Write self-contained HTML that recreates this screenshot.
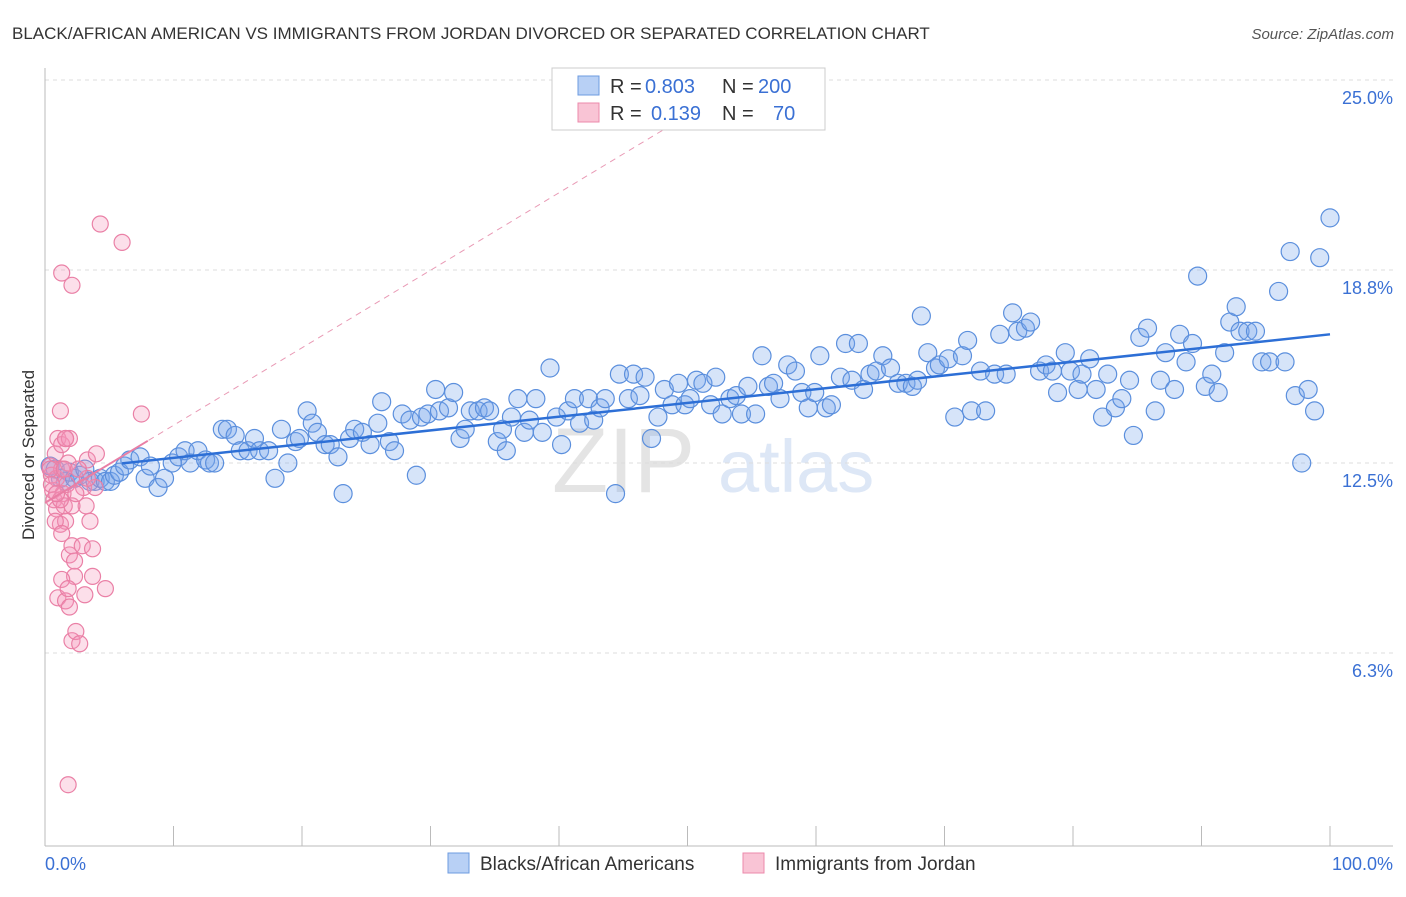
<!DOCTYPE html>
<html><head><meta charset="utf-8"><style>
body{margin:0;background:#fff;font-family:"Liberation Sans",sans-serif;}
svg text{font-family:"Liberation Sans",sans-serif;}
</style></head><body>
<svg id="chart" width="1406" height="892">
<text x="12" y="39" font-size="17" fill="#333">BLACK/AFRICAN AMERICAN VS IMMIGRANTS FROM JORDAN DIVORCED OR SEPARATED CORRELATION CHART</text>
<text x="1394" y="39" font-size="15" fill="#555" text-anchor="end" font-style="italic">Source: ZipAtlas.com</text>
<text x="34" y="455" font-size="17" fill="#333" text-anchor="middle" transform="rotate(-90 34 455)">Divorced or Separated</text>
<g><text x="552" y="492" font-size="92" fill="#e4e4e4" font-family="Liberation Serif">ZIP</text><text x="718" y="492" font-size="74" fill="#dde7f6">atlas</text></g>
<g id="grid"></g><g id="axes"></g><g id="marks"></g>
<g>
<rect x="552" y="68" width="273" height="62" fill="#fff" stroke="#ccc"/>
<rect x="578" y="76" width="21" height="19" fill="#b8d0f5" stroke="#6d9be0"/>
<rect x="578" y="103" width="21" height="19" fill="#f9c4d5" stroke="#ec8aab"/>
<text x="610" y="93" font-size="20" fill="#333">R =</text>
<text x="645" y="93" font-size="20" fill="#3a70d4">0.803</text>
<text x="722" y="93" font-size="20" fill="#333">N =</text>
<text x="758" y="93" font-size="20" fill="#3a70d4">200</text>
<text x="610" y="120" font-size="20" fill="#333">R =</text>
<text x="651" y="120" font-size="20" fill="#3a70d4">0.139</text>
<text x="722" y="120" font-size="20" fill="#333">N =</text>
<text x="773" y="120" font-size="20" fill="#3a70d4">70</text>
</g>
<g>
<rect x="448" y="853" width="21" height="20" fill="#b8d0f5" stroke="#6d9be0"/>
<text x="480" y="870" font-size="19" fill="#333">Blacks/African Americans</text>
<rect x="743" y="853" width="21" height="20" fill="#f9c4d5" stroke="#ec8aab"/>
<text x="775" y="870" font-size="19" fill="#333">Immigrants from Jordan</text>
</g>
</svg>
<script>
const yTicks=[25.0,18.8,12.5,6.3];
const yTickLabels=["25.0%","18.8%","12.5%","6.3%"];
const xTickLabels=["0.0%","100.0%"];
const blueX=[0.4,0.8,1.2,1.6,1.9,2.3,2.7,3.1,3.5,3.9,4.3,4.7,5.1,5.4,5.8,6.2,6.6,7.4,7.8,8.2,8.8,9.3,9.9,10.4,10.9,11.3,11.9,12.5,12.8,13.2,13.8,14.2,14.8,15.2,15.8,16.3,16.7,17.4,17.9,18.4,18.9,19.5,19.8,20.4,20.8,21.2,21.8,22.2,22.8,23.2,23.7,24.1,24.7,25.3,25.9,26.2,26.8,27.2,27.8,28.4,28.9,29.3,29.8,30.4,30.7,31.4,31.8,32.3,32.7,33.1,33.7,34.2,34.6,35.2,35.6,35.9,36.3,36.8,37.3,37.7,38.2,38.7,39.3,39.8,40.2,40.7,41.2,41.6,42.3,42.7,43.2,43.6,44.4,44.7,45.4,45.8,46.3,46.7,47.2,47.7,48.2,48.8,49.3,49.8,50.2,50.7,51.2,51.8,52.2,52.7,53.3,53.8,54.2,54.7,55.3,55.8,56.3,56.7,57.2,57.8,58.4,58.9,59.4,59.9,60.3,60.8,61.2,61.9,62.3,62.8,63.3,63.7,64.2,64.7,65.2,65.8,66.4,67.0,67.5,67.9,68.2,68.7,69.3,69.6,70.3,70.8,71.4,71.8,72.1,72.8,73.2,73.9,74.3,74.8,75.3,75.7,76.3,76.7,77.4,77.9,78.4,78.8,79.4,79.8,80.4,80.7,81.3,81.8,82.3,82.7,83.3,83.8,84.4,84.7,85.2,85.8,86.4,86.8,87.2,87.9,88.3,88.8,89.3,89.7,90.3,90.8,91.3,91.8,92.2,92.7,93.0,93.6,94.2,94.7,95.3,96.0,96.5,96.9,97.3,97.8,98.3,98.8,99.2,100];
const blueY=[12.4,12.3,12.0,11.9,12.2,12.0,12.1,12.3,11.9,11.9,12.0,11.9,11.9,12.1,12.2,12.4,12.6,12.7,12.0,12.4,11.7,12.0,12.5,12.7,12.9,12.5,12.9,12.6,12.5,12.5,13.6,13.6,13.4,12.9,12.9,13.3,12.9,12.9,12.0,13.6,12.5,13.2,13.3,14.2,13.8,13.5,13.1,13.1,12.7,11.5,13.3,13.6,13.5,13.1,13.8,14.5,13.2,12.9,14.1,13.9,12.1,14.0,14.1,14.9,14.2,14.3,14.8,13.3,13.6,14.2,14.2,14.3,14.2,13.2,13.6,12.9,14.0,14.6,13.5,13.9,14.6,13.5,15.6,14.0,13.1,14.2,14.6,13.8,14.6,13.9,14.3,14.6,11.5,15.4,14.6,15.4,14.7,15.3,13.3,14.0,14.9,14.4,15.1,14.4,14.6,15.2,15.1,14.4,15.3,14.1,14.6,14.7,14.1,15.0,14.1,16.0,15.0,15.1,14.6,15.7,15.5,14.8,14.3,14.8,16.0,14.3,14.4,15.3,16.4,15.2,16.4,14.9,15.4,15.5,16.0,15.6,15.1,15.1,15.0,15.2,17.3,16.1,15.6,15.7,15.9,14.0,16.0,16.5,14.2,15.5,14.2,15.4,16.7,15.4,17.4,16.8,16.9,17.1,15.5,15.7,15.5,14.8,16.1,15.5,14.9,15.4,15.9,14.9,14.0,15.4,14.3,14.6,15.2,13.4,16.6,16.9,14.2,15.2,16.1,14.9,16.7,15.8,16.4,18.6,15.0,15.4,14.8,16.1,17.1,17.6,16.8,16.8,16.8,15.8,15.8,18.1,15.8,19.4,14.7,12.5,14.9,14.2,19.2,20.5];
const pinkX=[0.4,0.5,0.6,0.7,0.8,0.9,0.9,1.0,1.2,1.2,1.3,1.3,1.4,1.5,1.6,1.6,1.7,1.8,1.9,1.9,2.1,2.3,2.3,1.0,1.3,1.6,1.8,1.9,2.1,2.4,2.7,2.9,3.0,3.2,3.3,3.5,3.7,3.7,3.9,4.0,4.3,4.7,6.0,7.5,1.3,2.1,1.8,2.1,0.8,1.2,1.6,0.4,0.5,0.9,1.5,3.1,3.3,2.4,2.6,1.3];
const pinkY=[12.4,12.1,11.6,11.3,12.8,12.0,11.0,13.3,10.5,14.2,13.1,12.3,11.5,11.1,13.3,10.6,11.8,12.5,13.3,9.5,9.8,8.8,9.3,8.1,8.7,8.0,8.4,7.8,6.7,7.0,6.6,9.8,11.7,11.1,12.6,10.6,8.8,9.7,11.7,12.8,20.3,8.4,19.7,14.1,18.7,18.3,2.0,11.1,10.6,11.3,13.3,12.3,11.8,11.5,12.3,8.2,12.0,11.5,12.3,10.2];
const blueTrend=[12.22,0.0448];
const pinkTrend=[11.2,0.253];
const NS="http://www.w3.org/2000/svg";
const X0=45,X1=1330,Y0=846,YPER=30.64;
const sx=v=>X0+(v/100)*(X1-X0);
const sy=v=>Y0-v*YPER;
function mk(tag,attrs,parent){const e=document.createElementNS(NS,tag);for(const k in attrs)e.setAttribute(k,attrs[k]);parent.appendChild(e);return e;}
const grid=document.getElementById('grid'),axes=document.getElementById('axes'),marks=document.getElementById('marks');
yTicks.forEach((t,i)=>{
 const l=mk('line',{x1:45,x2:1393,y1:sy(t),y2:sy(t),stroke:'#ddd','stroke-dasharray':'4,4'},grid);
 
 
 const tx=mk('text',{x:1393,y:sy(t)+24,'font-size':18,fill:'#3a70d4','text-anchor':'end'},axes);
 tx.textContent=yTickLabels[i];
 
 
});
const al=mk('line',{x1:45,x2:45,y1:68,y2:846,stroke:'#bbb'},axes);


const bl=mk('line',{x1:45,x2:1393,y1:846,y2:846,stroke:'#bbb'},axes);


for(let i=0;i<=10;i++){const tk=mk('line',{x1:sx(i*10),x2:sx(i*10),y1:826,y2:846,stroke:'#bbb'},axes);
 
 }
[[0,'start',45],[1,'end',1393]].forEach(([i,a,x])=>{const t=mk('text',{x:x,y:870,'font-size':18,fill:'#3a70d4','text-anchor':a},axes);t.textContent=xTickLabels[i];
 
 });
blueX.forEach((v,i)=>{const c=mk('circle',{cx:sx(v),cy:sy(blueY[i]),r:9,fill:'rgba(120,165,235,0.3)',stroke:'#5b8fdd','stroke-width':1.2},marks);
 
 });
pinkX.forEach((v,i)=>{const c=mk('circle',{cx:sx(v),cy:sy(pinkY[i]),r:8,fill:'rgba(245,150,185,0.3)',stroke:'#ea80a6','stroke-width':1.2},marks);
 
 });
const pd=mk('line',{x1:sx(0),y1:sy(pinkTrend[0]),x2:sx(52),y2:sy(pinkTrend[0]+pinkTrend[1]*52),stroke:'#e99ab5','stroke-width':1,'stroke-dasharray':'6,5'},marks);


const ps=mk('line',{x1:sx(0),y1:sy(pinkTrend[0]),x2:sx(8),y2:sy(pinkTrend[0]+pinkTrend[1]*8),stroke:'#e97fa5','stroke-width':2},marks);


const bt=mk('line',{x1:sx(6),y1:sy(blueTrend[0]+blueTrend[1]*6),x2:sx(100),y2:sy(blueTrend[0]+blueTrend[1]*100),stroke:'#2d6fd6','stroke-width':2.5},marks);


</script>
</body></html>
